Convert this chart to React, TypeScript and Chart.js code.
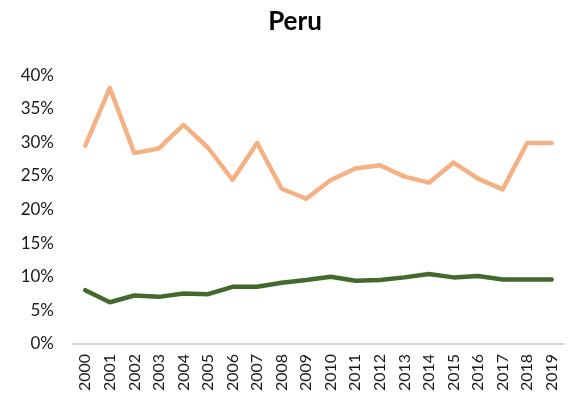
import React, { useEffect, useRef } from "react";
import { Chart, registerables } from "chart.js";

Chart.register(...registerables);

const years = ["2000","2001","2002","2003","2004","2005","2006","2007","2008","2009","2010","2011","2012","2013","2014","2015","2016","2017","2018","2019"];
const orangeSeries = [29.5, 38.1, 28.4, 29.1, 32.6, 29.2, 24.4, 29.9, 23.1, 21.6, 24.4, 26.1, 26.6, 24.9, 24.0, 27.0, 24.6, 23.0, 29.9, 29.9];
const greenSeries = [8.0, 6.2, 7.2, 7.0, 7.5, 7.4, 8.5, 8.5, 9.1, 9.5, 10.0, 9.4, 9.5, 9.9, 10.4, 9.9, 10.1, 9.6, 9.6, 9.6];
const titleText = "Peru";

const titleShift = {
  id: "titleShift",
  afterLayout(chart: any) {
    const tb = chart.titleBlock;
    if (tb) { tb.left += 13; tb.right += 13; }
  },
};

export default function App() {
  const ref = useRef<HTMLCanvasElement>(null);
  useEffect(() => {
    document.body.style.margin = "0";
    const ctx = ref.current!;
    const font = "Lato, 'Open Sans', sans-serif";
    const chart = new Chart(ctx, {
      type: "line",
      data: {
        labels: years,
        datasets: [
          {
            data: orangeSeries,
            borderColor: "#f4b183",
            borderWidth: 4.5,
            pointRadius: 0,
            tension: 0,
            borderCapStyle: "round",
            borderJoinStyle: "round",
          },
          {
            data: greenSeries,
            borderColor: "#436a2c",
            borderWidth: 4.5,
            pointRadius: 0,
            tension: 0,
            borderCapStyle: "round",
            borderJoinStyle: "round",
          },
        ],
      },
      plugins: [titleShift],
      options: {
        animation: false,
        responsive: false,
        layout: { padding: { left: 0, right: 5, top: 0, bottom: 4 } },
        plugins: {
          legend: { display: false },
          tooltip: { enabled: false },
          title: {
            display: true,
            text: titleText,
            color: "#000",
            font: { family: font, size: 26, weight: "bold" },
            padding: { top: 6, bottom: 38 },
          },
        },
        scales: {
          x: {
            offset: true,
            grid: { display: false, drawTicks: false },
            border: { display: true, color: "#d9d9d9", width: 2 },
            afterFit: (s: any) => { s.paddingLeft = 0; s.paddingRight = 0; },
            ticks: {
              minRotation: 90,
              maxRotation: 90,
              autoSkip: false,
              color: "#1a1a1a",
              padding: 10,
              font: { family: font, size: 16 },
            },
          },
          y: {
            min: 0,
            max: 40,
            grid: { display: false, drawTicks: false },
            border: { display: false },
            afterFit: (s: any) => { s.width = 73; },
            ticks: {
              stepSize: 5,
              color: "#1a1a1a",
              padding: 19,
              font: { family: font, size: 17 },
              callback: (v: any) => v + "%",
            },
          },
        },
      },
    });
    return () => chart.destroy();
  }, []);
  return <canvas ref={ref} width={569} height={405} style={{ display: "block" }} />;
}
